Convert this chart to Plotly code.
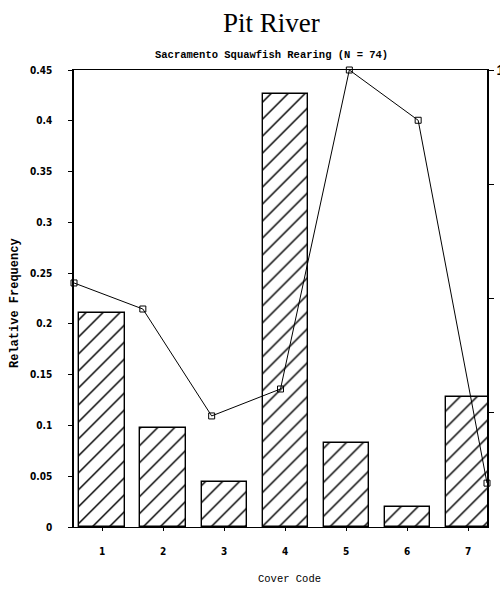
import plotly.graph_objects as go

# ---- data ----
cover_codes = [1, 2, 3, 4, 5, 6, 7]
cover_labels = ["1", "2", "3", "4", "5", "6", "7"]
relative_frequency = [0.211, 0.097, 0.044, 0.426, 0.083, 0.020, 0.128]   # bars, left axis
line_values = [0.534, 0.477, 0.243, 0.302, 1.0, 0.89, 0.096]              # line, right axis
left_ticks = [0, 0.05, 0.1, 0.15, 0.2, 0.25, 0.3, 0.35, 0.4, 0.45]
left_ticktext = ["0", "0.05", "0.1", "0.15", "0.2", "0.25", "0.3", "0.35", "0.4", "0.45"]
right_ticks = [0.25, 0.5, 0.75, 1.0]
right_ticktext = ["", "", "", "1.0"]

title_text = "Pit River"
subtitle_text = "Sacramento Squawfish Rearing (N = 74)"
x_title = "Cover Code"
y_title = "Relative Frequency"

tick_font = dict(family="Liberation Sans Narrow, DejaVu Sans Condensed, sans-serif",
                 size=10, color="black", weight="bold")
mono = "Liberation Mono, DejaVu Sans Mono, monospace"

fig = go.Figure()

fig.add_trace(go.Bar(
    x=cover_codes, y=relative_frequency, width=0.74,
    marker=dict(color="white",
                line=dict(color="black", width=1.4),
                pattern=dict(shape="/", fgcolor="black", bgcolor="white",
                             size=12, solidity=0.12, fillmode="replace")),
    xaxis="x", yaxis="y", showlegend=False, hoverinfo="skip",
))

fig.add_trace(go.Scatter(
    x=cover_codes, y=line_values, mode="lines+markers",
    line=dict(color="black", width=1),
    marker=dict(symbol="square-open", size=6, color="black", line=dict(width=1)),
    xaxis="x2", yaxis="y2", showlegend=False, cliponaxis=False,
))

fig.update_layout(
    width=500, height=591,
    margin=dict(l=74, r=13, t=70, b=64, autoexpand=False),
    paper_bgcolor="white", plot_bgcolor="white",
    bargap=0,
    xaxis=dict(range=[0.54, 7.31], tickvals=cover_codes, ticktext=cover_labels,
               showgrid=False, zeroline=False, showline=True, linecolor="black",
               linewidth=1, mirror=True, ticks="outside", ticklen=3, tickcolor="black",
               ticklabelstandoff=12, tickfont=tick_font, automargin=False),
    yaxis=dict(range=[0, 0.45], tickvals=left_ticks, ticktext=left_ticktext,
               showgrid=False, zeroline=False, showline=True, linecolor="black",
               linewidth=1.5, ticks="outside", ticklen=4, tickcolor="black",
               ticklabelstandoff=14, tickfont=tick_font, automargin=False),
    xaxis2=dict(overlaying="x", range=[1, 7], visible=False),
    yaxis2=dict(overlaying="y", side="right", range=[0, 1],
                tickvals=right_ticks, ticktext=right_ticktext,
                showgrid=False, zeroline=False, showline=True, linecolor="black",
                linewidth=1.5, ticks="outside", ticklen=5, tickcolor="black",
                tickfont=dict(family="Liberation Sans, sans-serif", size=14,
                              color="black", weight="bold"),
                automargin=False),
    annotations=[
        dict(text=title_text, xref="paper", yref="paper", x=0.479, y=1.0,
             yshift=47, xanchor="center", yanchor="middle", showarrow=False,
             font=dict(family="Liberation Serif, serif", size=27, color="black")),
        dict(text=subtitle_text, xref="paper", yref="paper", x=0.479, y=1.0,
             yshift=15, xanchor="center", yanchor="middle", showarrow=False,
             font=dict(family=mono, size=10.5, color="black", weight="bold")),
        dict(text=x_title, xref="paper", yref="paper", x=0.521, y=0.0,
             yshift=-52, xanchor="center", yanchor="middle", showarrow=False,
             font=dict(family=mono, size=10.5, color="black")),
        dict(text=y_title, xref="paper", yref="paper", x=-0.143, y=0.49,
             xanchor="center", yanchor="middle", showarrow=False, textangle=-90,
             font=dict(family=mono, size=12, color="black", weight="bold")),
    ],
)

fig.write_html("out.html",
               config={"displayModeBar": False},
               post_script="document.body.style.margin='0';"
                           "document.body.style.overflow='hidden';")
